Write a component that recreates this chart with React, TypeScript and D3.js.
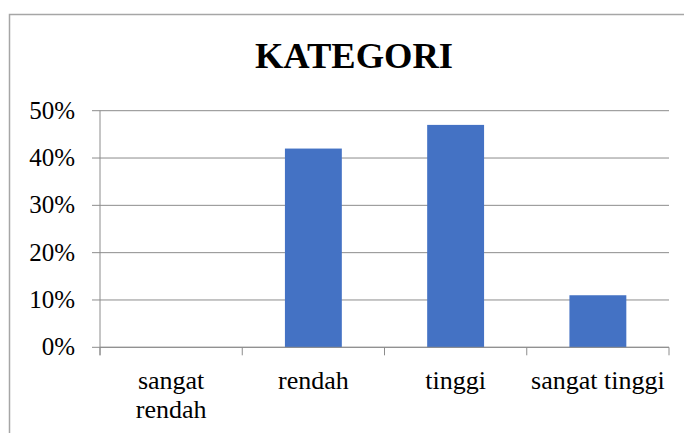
import React, { useEffect, useRef } from "react";
import * as d3 from "d3";

// chart data
const categories = ["sangat rendah", "rendah", "tinggi", "sangat tinggi"];
const labelLines = [["sangat", "rendah"], ["rendah"], ["tinggi"], ["sangat tinggi"]];
const values = [0, 0.42, 0.47, 0.11];
const yTicks = [0, 0.1, 0.2, 0.3, 0.4, 0.5];
const title = "KATEGORI";

const W = 684;
const H = 433;

function BarChart() {
  const svgRef = useRef<SVGSVGElement | null>(null);

  useEffect(() => {
    const svg = d3.select(svgRef.current);
    svg.selectAll("*").remove();

    const left = 100;
    const right = 669;
    const top = 110.7;
    const bottom = 347.3;
    const gridColor = "#8c8c8c";

    // outer chart frame (runs off the right and bottom)
    svg.append("rect")
      .attr("x", 9.5).attr("y", 14.5)
      .attr("width", W).attr("height", H)
      .attr("fill", "white")
      .attr("stroke", "#a6a6a6")
      .attr("stroke-width", 1.5);

    svg.append("text")
      .attr("x", 354).attr("y", 68)
      .attr("text-anchor", "middle")
      .style("font-weight", "bold")
      .style("font-size", "36.5px")
      .text(title);

    const x = d3.scaleBand().domain(categories).range([left, right]).paddingInner(0.6).paddingOuter(0.3);
    const y = d3.scaleLinear().domain([0, 0.5]).range([bottom, top]);

    // gridlines + y labels
    const g = svg.append("g");
    g.selectAll(".grid")
      .data(yTicks)
      .join("line")
      .attr("x1", left - 8).attr("x2", right)
      .attr("y1", (d) => y(d)).attr("y2", (d) => y(d))
      .attr("stroke", gridColor)
      .attr("stroke-width", 1);

    g.selectAll(".ylab")
      .data(yTicks)
      .join("text")
      .attr("x", 75)
      .attr("y", (d) => y(d) + 8)
      .attr("text-anchor", "end")
      .style("font-size", "25px")
      .text((d) => d3.format(".0%")(d));

    // bars
    svg.selectAll(".bar")
      .data(values)
      .join("rect")
      .attr("x", (_d, i) => x(categories[i]) as number)
      .attr("width", x.bandwidth())
      .attr("y", (d) => y(d))
      .attr("height", (d) => bottom - y(d))
      .attr("fill", "#4472c4");

    // axes
    svg.append("line")
      .attr("x1", left).attr("x2", left)
      .attr("y1", top).attr("y2", bottom + 8)
      .attr("stroke", gridColor);
    svg.append("line")
      .attr("x1", left).attr("x2", right)
      .attr("y1", bottom).attr("y2", bottom)
      .attr("stroke", gridColor);

    const step = (right - left) / categories.length;
    svg.selectAll(".xtick")
      .data(d3.range(categories.length + 1))
      .join("line")
      .attr("x1", (i) => left + i * step).attr("x2", (i) => left + i * step)
      .attr("y1", bottom).attr("y2", bottom + 8)
      .attr("stroke", gridColor);

    const labels = svg.selectAll(".xlab")
      .data(labelLines)
      .join("text")
      .attr("text-anchor", "middle")
      .style("font-size", "26px")
      .attr("transform", (_d, i) => `translate(${(x(categories[i]) as number) + x.bandwidth() / 2},389)`);
    labels.selectAll("tspan")
      .data((d) => d)
      .join("tspan")
      .attr("x", 0)
      .attr("y", (_d, j) => j * 29)
      .text((d) => d);
  }, []);

  return (
    <svg
      ref={svgRef}
      width={W}
      height={H}
      style={{ position: "absolute", left: 0, top: 0, fontFamily: "Liberation Serif, serif" }}
    />
  );
}

export default function App() {
  return <BarChart />;
}
